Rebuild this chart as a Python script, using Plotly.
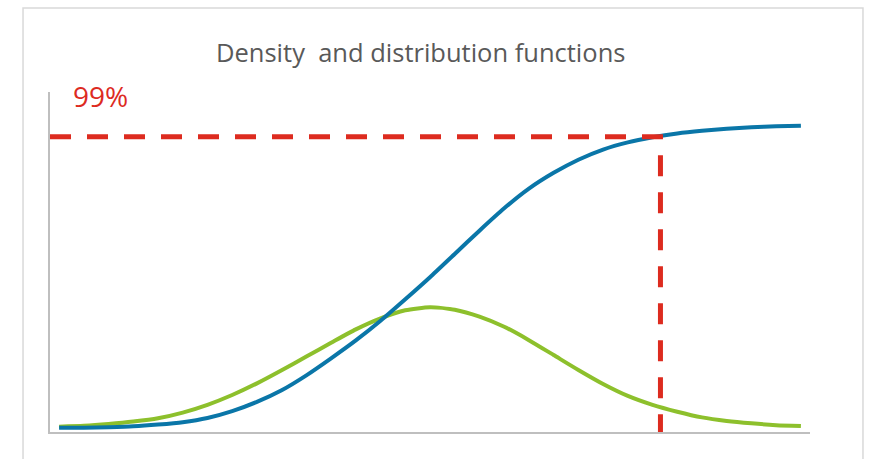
import plotly.graph_objects as go

# Standardised x positions of the sampled points
z_values = [-3.75, -3.5, -3.25, -3.0, -2.75, -2.5, -2.25, -2.0, -1.75, -1.5,
            -1.25, -1.0, -0.75, -0.5, -0.25, 0.0, 0.25, 0.5, 0.75, 1.0,
            1.25, 1.5, 1.75, 2.0, 2.25, 2.5, 2.75, 3.0, 3.25, 3.5, 3.75]

# Cumulative distribution curve
distribution = [0.014, 0.014, 0.016, 0.019, 0.025, 0.033, 0.047, 0.070, 0.101, 0.140,
                0.190, 0.247, 0.307, 0.373, 0.445, 0.519, 0.597, 0.675, 0.750, 0.816,
                0.869, 0.913, 0.947, 0.971, 0.988, 1.001, 1.010, 1.017, 1.022, 1.025, 1.027]

# Density curve (same vertical scale)
density = [0.018, 0.021, 0.027, 0.035, 0.046, 0.065, 0.091, 0.124, 0.163, 0.207,
           0.253, 0.299, 0.344, 0.381, 0.408, 0.418, 0.410, 0.387, 0.353, 0.308,
           0.258, 0.208, 0.161, 0.121, 0.091, 0.068, 0.049, 0.037, 0.029, 0.023, 0.020]

# 99% quantile marker
quantile_level = 0.99
quantile_x = 2.33
quantile_label = "99%"

title_text = "Density\u00a0 and distribution functions"

x_range = [-3.842, 3.842]
y_range = [0, 1.14]

BLUE = "#0A76A8"
GREEN = "#8DC02C"
RED = "#DD2B1F"
AXIS_GREY = "#BFBFBF"

fig = go.Figure()

fig.add_trace(go.Scatter(
    x=z_values, y=density, mode="lines",
    line=dict(color=GREEN, width=4, shape="spline", smoothing=0.6),
    name="density", hoverinfo="skip"))

fig.add_trace(go.Scatter(
    x=z_values, y=distribution, mode="lines",
    line=dict(color=BLUE, width=4, shape="spline", smoothing=0.6),
    name="distribution", hoverinfo="skip"))

# Dashed guide: from the y axis across to the quantile, then down to the x axis
fig.add_trace(go.Scatter(
    x=[x_range[0], quantile_x, quantile_x],
    y=[quantile_level, quantile_level, y_range[0]],
    mode="lines",
    line=dict(color=RED, width=5, dash="21px,16px"),
    name="quantile", hoverinfo="skip"))

fig.update_layout(
    width=871, height=459,
    margin=dict(l=50, r=61, t=92, b=27),
    paper_bgcolor="white", plot_bgcolor="white",
    showlegend=False,
    xaxis=dict(range=x_range, showgrid=False, zeroline=False, showticklabels=False,
               ticks="", showline=True, linecolor=AXIS_GREY, linewidth=2),
    yaxis=dict(range=y_range, showgrid=False, zeroline=False, showticklabels=False,
               ticks="", showline=True, linecolor=AXIS_GREY, linewidth=2),
    annotations=[
        dict(text=title_text, xref="paper", yref="paper", x=0.487, y=1.117,
             xanchor="center", yanchor="middle", showarrow=False,
             font=dict(family="Open Sans", size=25.5, color="#595959")),
        dict(text=quantile_label, xref="paper", yref="paper", x=0.027, y=0.988,
             xanchor="left", yanchor="middle", showarrow=False,
             font=dict(family="Open Sans", size=28, color=RED)),
    ],
    shapes=[
        dict(type="rect", xref="paper", yref="paper", x0=-0.0355, x1=1.0697,
             y0=-0.12, y1=1.247, line=dict(color="#D9D9D9", width=1.5),
             fillcolor="rgba(0,0,0,0)", layer="below"),
    ],
)

fig.write_html("out.html")
